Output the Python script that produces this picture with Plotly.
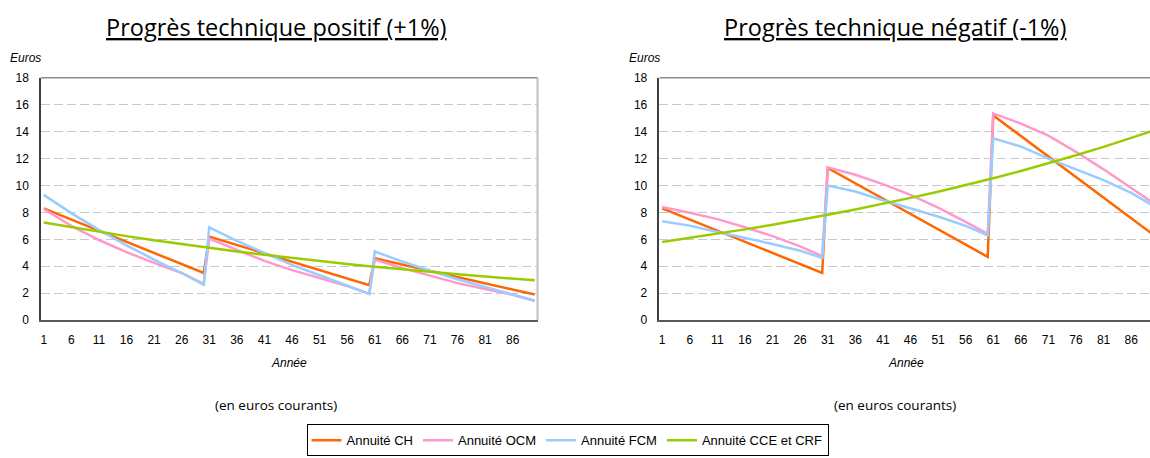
import plotly.graph_objects as go

# Sample years (category axis 1..90, three 30-year cycles)
years = [1, 6, 11, 16, 21, 26, 30, 31, 36, 41, 46, 51, 56, 60,
         61, 66, 71, 76, 81, 86, 90]
tick_years = list(range(1, 90, 5))
tick_labels = [str(v) for v in tick_years]

series_names = ["Annuité CH", "Annuité OCM", "Annuité FCM", "Annuité CCE et CRF"]
series_colors = ["#FF6600", "#FF99CC", "#99CCFF", "#99CC00"]

# Progrès technique positif (+1%)
pos_ch = [8.3, 7.47, 6.65, 5.82, 4.99, 4.16, 3.5, 6.2, 5.58, 4.96, 4.34, 3.72, 3.1, 2.6,
          4.6, 4.13, 3.67, 3.2, 2.74, 2.27, 1.9]
pos_ocm = [8.25, 7.0, 5.95, 5.05, 4.25, 3.5, 2.7, 6.06, 5.22, 4.4, 3.71, 3.12, 2.54, 1.95,
           4.49, 3.86, 3.3, 2.75, 2.31, 1.88, 1.42]
pos_fcm = [9.3, 7.95, 6.7, 5.55, 4.5, 3.5, 2.62, 6.88, 5.88, 4.96, 4.1, 3.33, 2.59, 1.95,
           5.1, 4.35, 3.67, 3.04, 2.47, 1.92, 1.45]
pos_cce = [7.25, 6.9, 6.56, 6.24, 5.93, 5.64, 5.42, 5.36, 5.1, 4.85, 4.61, 4.38, 4.17, 4.0,
           3.96, 3.77, 3.58, 3.41, 3.24, 3.08, 2.96]

# Progrès technique négatif (-1%)
neg_ch = [8.3, 7.47, 6.65, 5.82, 4.99, 4.16, 3.5, 11.3, 10.16, 9.02, 7.88, 6.74, 5.6, 4.7,
          15.2, 13.67, 12.14, 10.61, 9.08, 7.55, 6.35]
neg_ocm = [8.4, 7.98, 7.5, 6.9, 6.24, 5.48, 4.75, 11.35, 10.8, 10.1, 9.3, 8.35, 7.3, 6.4,
           15.35, 14.6, 13.7, 12.5, 11.2, 9.8, 8.7]
neg_fcm = [7.35, 7.02, 6.54, 6.1, 5.66, 5.15, 4.63, 10.0, 9.55, 8.9, 8.3, 7.7, 7.0, 6.3,
           13.5, 12.9, 12.0, 11.2, 10.4, 9.45, 8.5]
neg_cce = [5.8, 6.1, 6.41, 6.74, 7.08, 7.44, 7.74, 7.82, 8.22, 8.64, 9.08, 9.54, 10.03, 10.44,
           10.54, 11.08, 11.65, 12.24, 12.87, 13.52, 14.07]

W, H = 1150, 458
FONT = "Liberation Sans"
TITLE_FONT = "Open Sans"

fig = go.Figure()

for i, (name, color) in enumerate(zip(series_names, series_colors)):
    left_vals = [pos_ch, pos_ocm, pos_fcm, pos_cce][i]
    right_vals = [neg_ch, neg_ocm, neg_fcm, neg_cce][i]
    fig.add_trace(go.Scatter(x=years, y=left_vals, mode="lines", name=name,
                             line=dict(color=color, width=2.5),
                             legendgroup=name, xaxis="x", yaxis="y"))
    fig.add_trace(go.Scatter(x=years, y=right_vals, mode="lines", name=name,
                             line=dict(color=color, width=2.5), showlegend=False,
                             legendgroup=name, xaxis="x2", yaxis="y2"))

# plot-area pixel geometry
left_x0, left_x1 = 40, 537
right_x0, right_x1 = 659, 1150
top_px, bottom_px = 73, 323
px_per_year = (left_x1 - left_x0) / 90.0
right_range_end = 0.5 + (right_x1 - right_x0) / px_per_year

ydom = [(H - bottom_px) / H, (H - top_px) / H]

xaxis_common = dict(
    tickmode="array", tickvals=tick_years, ticktext=tick_labels,
    showgrid=False, zeroline=False, ticks="", showline=True,
    linecolor="#595959", linewidth=2,
    tickfont=dict(family=FONT, size=12, color="#000000"),
    ticklabelstandoff=7,
)
yaxis_common = dict(
    range=[0, 18], dtick=2, tick0=0, showgrid=True, gridcolor="#C8C8C8",
    griddash="9px,4px", gridwidth=1, zeroline=False, ticks="",
    showline=True, linecolor="#404040", linewidth=1.5,
    tickfont=dict(family=FONT, size=12, color="#000000"),
    ticklabelstandoff=8,
)

fig.update_layout(
    width=W, height=H,
    margin=dict(l=0, r=0, t=0, b=0),
    paper_bgcolor="white", plot_bgcolor="white",
    showlegend=True,
    xaxis=dict(domain=[left_x0 / W, left_x1 / W], range=[0.5, 90.5], anchor="y",
               **xaxis_common),
    yaxis=dict(domain=ydom, anchor="x", **yaxis_common),
    xaxis2=dict(domain=[right_x0 / W, right_x1 / W], range=[0.5, right_range_end],
                anchor="y2", **xaxis_common),
    yaxis2=dict(domain=ydom, anchor="x2", **yaxis_common),
    legend=dict(
        orientation="h", x=567 / W, xanchor="center", y=(H - 447) / H, yanchor="middle",
        bordercolor="#000000", borderwidth=1, bgcolor="white",
        font=dict(family=FONT, size=13, color="#000000"),
        itemwidth=30, tracegroupgap=0,
    ),
)

# plot-area frame (top and right edges)
for xr, yr in (("x domain", "y domain"), ("x2 domain", "y2 domain")):
    fig.add_shape(type="line", xref=xr, yref=yr, x0=0, x1=1, y0=1, y1=1,
                  line=dict(color="#8C8C8C", width=1.5), layer="above")
fig.add_shape(type="line", xref="x domain", yref="y domain", x0=1, x1=1, y0=0, y1=1,
              line=dict(color="#BFBFBF", width=2), layer="above")


def ann(text, xpx, ypx, size, family, italic=False, color="#000000"):
    fig.add_annotation(
        text=f"<i>{text}</i>" if italic else text,
        x=xpx / W, y=(H - ypx) / H, xref="paper", yref="paper",
        xanchor="center", yanchor="middle", showarrow=False,
        font=dict(family=family, size=size, color=color),
    )


ann("<u>Progrès technique positif (+1%)</u>", 276, 21, 23.5, TITLE_FONT)
ann("<u>Progrès technique négatif (-1%)</u>", 895, 21, 23.5, TITLE_FONT)
ann("Euros", 25, 53, 12, FONT, italic=True)
ann("Euros", 644, 53, 12, FONT, italic=True)
ann("Année", 288, 367, 12, FONT, italic=True)
ann("Année", 906, 367, 12, FONT, italic=True)
ann("(en euros courants)", 275, 411, 13.5, TITLE_FONT)
ann("(en euros courants)", 895, 411, 13.5, TITLE_FONT)

fig.write_html("out.html")
